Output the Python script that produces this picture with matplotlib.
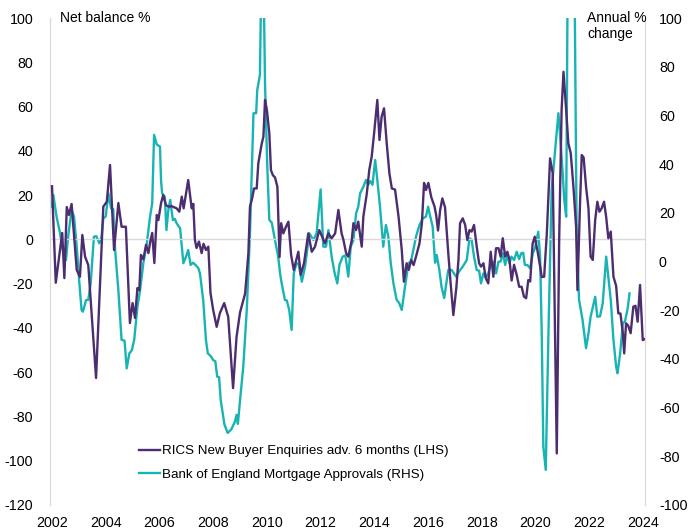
import matplotlib
matplotlib.use("Agg")
import matplotlib.pyplot as plt
from matplotlib import font_manager
import numpy as np

names = {f.name for f in font_manager.fontManager.ttflist}
FONT = "Liberation Sans Narrow" if "Liberation Sans Narrow" in names else "Liberation Sans"
plt.rcParams['font.family'] = [FONT, 'DejaVu Sans']

# RICS New Buyer Enquiries adv. 6 months (LHS), net balance %
rics_t = [2002.00, 2002.14, 2002.38, 2002.46, 2002.55, 2002.63, 2002.73, 2002.92, 2003.04, 2003.13,
          2003.23, 2003.35, 2003.64, 2003.85, 2003.91, 2004.04, 2004.16, 2004.31, 2004.47, 2004.59,
          2004.75, 2004.90, 2005.00, 2005.09, 2005.18, 2005.25, 2005.31, 2005.40, 2005.50, 2005.59,
          2005.65, 2005.73, 2005.81, 2005.90, 2005.96, 2006.06, 2006.14, 2006.24, 2006.33, 2006.45,
          2006.64, 2006.74, 2006.83, 2006.90, 2007.07, 2007.20, 2007.26, 2007.32, 2007.38, 2007.47,
          2007.57, 2007.64, 2007.73, 2007.82, 2007.90, 2008.00, 2008.13, 2008.25, 2008.41, 2008.56,
          2008.74, 2008.87, 2009.00, 2009.19, 2009.31, 2009.37, 2009.45, 2009.52, 2009.62, 2009.68,
          2009.81, 2009.87, 2009.93, 2010.00, 2010.09, 2010.15, 2010.22, 2010.30, 2010.39, 2010.47,
          2010.53, 2010.61, 2010.71, 2010.80, 2010.90, 2011.00, 2011.17, 2011.26, 2011.38, 2011.54,
          2011.67, 2011.79, 2011.95, 2012.08, 2012.16, 2012.29, 2012.41, 2012.54, 2012.66, 2012.78,
          2012.85, 2012.95, 2013.03, 2013.16, 2013.22, 2013.32, 2013.40, 2013.53, 2013.59, 2013.72,
          2013.81, 2013.90, 2013.99, 2014.11, 2014.19, 2014.27, 2014.36, 2014.46, 2014.56, 2014.65,
          2014.77, 2014.90, 2015.02, 2015.10, 2015.20, 2015.28, 2015.37, 2015.46, 2015.55, 2015.68,
          2015.77, 2015.85, 2015.92, 2016.01, 2016.12, 2016.24, 2016.30, 2016.37, 2016.45, 2016.53,
          2016.63, 2016.75, 2016.84, 2016.94, 2017.05, 2017.13, 2017.19, 2017.29, 2017.38, 2017.46,
          2017.54, 2017.62, 2017.71, 2017.81, 2017.90, 2017.97, 2018.06, 2018.15, 2018.24, 2018.33,
          2018.43, 2018.53, 2018.62, 2018.70, 2018.78, 2018.87, 2018.95, 2019.03, 2019.11, 2019.20,
          2019.30, 2019.39, 2019.48, 2019.57, 2019.65, 2019.73, 2019.80, 2019.89, 2019.97, 2020.07,
          2020.18, 2020.23, 2020.32, 2020.42, 2020.54, 2020.64, 2020.79, 2020.88, 2020.97, 2021.04,
          2021.14, 2021.22, 2021.31, 2021.41, 2021.51, 2021.56, 2021.66, 2021.72, 2021.79, 2021.88,
          2021.97, 2022.05, 2022.13, 2022.22, 2022.30, 2022.38, 2022.46, 2022.55, 2022.63, 2022.71,
          2022.80, 2022.90, 2023.00, 2023.08, 2023.16, 2023.25, 2023.30, 2023.37, 2023.45, 2023.54,
          2023.64, 2023.72, 2023.80, 2023.89, 2023.99, 2024.07]
rics_v = [24, -19.6, 2.9, -17.5, 14.6, 11, 16, -13.8, -16.9, 2,
          -7.8, -11.6, -62.6, -1.6, 14.8, 17, 33.6, -4.8, 16.4, 5.7,
          5.7, -37.8, -28.8, -35.5, -22, -23, -7, -9, -2.5, -6.2,
          -1.5, 2.9, -10.7, 11, 8.7, 16.4, 20, 15.5, 14.8, 15,
          14, 12.5, 19.3, 14, 26.8, 14, 16, -0.3, -3.9, -1,
          -6.2, -2, -4.8, -3.3, -24.2, -31.9, -39.5, -33.3, -28.8, -35,
          -67.2, -44, -33, -24.4, -6.3, 14.8, 18.5, 23, 23, 34.4,
          43.4, 46.4, 63, 58.4, 47.9, 31.3, 29, 28, 23.8, -8,
          7.3, 2.7, 5.7, 8, -7, -13.8, -5.6, -16, -10.8, 2.7,
          -5.6, -3.3, 4.2, 0.5, -1.8, 2.7, 0.5, 2.7, 13.3, 2.7,
          -0.3, -6.3, -7.8, -0.3, 7.3, 4.2, 8, -3.3, 10.3, 20.8,
          31.3, 37.3, 47.9, 63, 44.9, 55.4, 59.2, 43.4, 29.8, 23,
          22.5, 10.3, -4.8, -19.1, -10.8, -13.8, -9.3, -11.6, -7.8, -1.8,
          7.3, 25.5, 22.3, 25.5, 19, 14.8, 11, 4, 13.3, 18.5,
          14.5, -6, -20, -34.2, -22, -9.3, 7.3, 9.5, 6.5, -0.3,
          4.2, 3.5, 6.5, -3.3, -10.8, -12.3, -10.8, -17.6, -19.9, -5.6,
          -16.9, -4, -4, -7.8, 0.5, -7.8, -5.6, -9.3, -18.6, -11.5,
          -16.1, -21.4, -21.4, -25.9, -26.6, -18.4, -19, -2, 1.2, -5,
          -13, -17, -16.9, 2.7, 36.6, 29.8, -96.7, 0, 58.4, 75.7,
          58.4, 43.4, 38.9, 23.8, 5.7, -22.9, 17.8, 38.1, 37, 23.8,
          14, -7.8, -9.3, 8.7, 17, 12.5, 14, 17, 10, 0.5,
          3.5, -16.9, -21, -33.4, -33.5, -42.4, -51.5, -37.9, -39, -42.4,
          -30.4, -30, -37.2, -20.6, -45.5, -45]

# Bank of England Mortgage Approvals (RHS), annual % change
boe_t = [2002.00, 2002.05, 2002.17, 2002.30, 2002.40, 2002.52, 2002.60, 2002.73, 2002.82, 2002.92,
         2003.02, 2003.10, 2003.15, 2003.27, 2003.35, 2003.44, 2003.56, 2003.65, 2003.76, 2003.84,
         2003.91, 2004.00, 2004.10, 2004.20, 2004.28, 2004.35, 2004.47, 2004.59, 2004.70, 2004.78,
         2004.88, 2004.97, 2005.06, 2005.18, 2005.28, 2005.40, 2005.53, 2005.65, 2005.73, 2005.80,
         2005.90, 2006.02, 2006.06, 2006.10, 2006.20, 2006.26, 2006.33, 2006.40, 2006.50, 2006.57,
         2006.64, 2006.77, 2006.89, 2006.99, 2007.07, 2007.16, 2007.25, 2007.35, 2007.45, 2007.51,
         2007.63, 2007.73, 2007.80, 2007.92, 2008.00, 2008.08, 2008.15, 2008.22, 2008.28, 2008.42,
         2008.54, 2008.67, 2008.80, 2008.87, 2008.92, 2009.00, 2009.12, 2009.25, 2009.37, 2009.50,
         2009.60, 2009.64, 2009.74, 2009.81, 2009.87, 2009.93, 2010.01, 2010.09, 2010.18, 2010.30,
         2010.42, 2010.49, 2010.55, 2010.67, 2010.74, 2010.83, 2010.92, 2011.00, 2011.10, 2011.18,
         2011.30, 2011.42, 2011.58, 2011.73, 2011.85, 2011.95, 2012.00, 2012.10, 2012.20, 2012.29,
         2012.41, 2012.51, 2012.62, 2012.70, 2012.82, 2012.92, 2013.03, 2013.12, 2013.22, 2013.32,
         2013.40, 2013.47, 2013.59, 2013.69, 2013.77, 2013.85, 2013.93, 2014.03, 2014.11, 2014.21,
         2014.33, 2014.43, 2014.52, 2014.61, 2014.71, 2014.83, 2014.92, 2015.02, 2015.14, 2015.27,
         2015.36, 2015.45, 2015.55, 2015.68, 2015.80, 2015.92, 2016.00, 2016.07, 2016.17, 2016.26,
         2016.32, 2016.42, 2016.50, 2016.60, 2016.75, 2016.88, 2017.04, 2017.16, 2017.29, 2017.44,
         2017.54, 2017.62, 2017.71, 2017.81, 2017.90, 2017.97, 2018.06, 2018.15, 2018.24, 2018.33,
         2018.43, 2018.53, 2018.62, 2018.70, 2018.78, 2018.87, 2018.95, 2019.03, 2019.10, 2019.20,
         2019.30, 2019.39, 2019.47, 2019.54, 2019.60, 2019.70, 2019.80, 2019.90, 2019.98, 2020.10,
         2020.17, 2020.23, 2020.29, 2020.38, 2020.48, 2020.60, 2020.73, 2020.85, 2020.91, 2021.01,
         2021.07, 2021.14, 2021.22, 2021.30, 2021.38, 2021.46, 2021.53, 2021.62, 2021.75, 2021.88,
         2021.97, 2022.05, 2022.22, 2022.30, 2022.40, 2022.50, 2022.63, 2022.71, 2022.80, 2022.90,
         2023.00, 2023.05, 2023.15, 2023.25, 2023.33, 2023.42, 2023.50]
boe_v = [22.5, 27.3, 18.4, 11.6, 4.7, 0.6, 10.2, 21.1, 18.4, 6.1,
         -9, -19.9, -20.6, -15.8, -15.8, -9, 10.2, 10.4, 7.5, 10,
         17.7, 18.5, 28, 21.8, 21.5, 4.7, -11.7, -32.2, -32.5, -43.9,
         -37.7, -36.5, -32.2, -18.6, -11.7, -0.7, 7.5, 18.4, 23.9, 52,
         48, 47.2, 33, 28, 26.6, 12.9, 21.1, 25.3, 17, 17.5,
         15.7, 13.6, -0.7, 2, 4.7, -1.4, -0.5, -1.5, -2.8, -5,
         -16, -32.2, -37.7, -39, -40.5, -41, -47.3, -47.5, -56.9, -67,
         -70.4, -69, -66, -63, -66.7, -56.9, -43.2, -19.9, 11.6, 60.9,
         60.9, 70.4, 76.6, 130, 120, 73.2, 40.3, 17, 16, 8.8,
         2, -4.9, -9, -15.8, -16, -19.9, -28.1, -4.9, -0.7, -1,
         -8.3, -2.1, 11.6, 8.8, 11.6, 23.9, 29.6, 6.1, 6.1, 12.9,
         2, -4.2, -9, -1.4, 2, 2.5, -6.2, 6.1, 8.8, 19.8,
         22.5, 28, 30.7, 33.5, 31.5, 33, 31.5, 41.7, 33.5, 22.5,
         6.1, 15, 10.2, -0.7, -9, -15.8, -17, -19.9, -10.4, -0.7,
         0, 4.7, 10.2, 15, 17.7, 18.4, 22.5, 19, 14.3, -0.5,
         2.7, -3.5, -10.4, -15, -3.5, -3.5, -6.2, -4, -2.1, 0.6,
         9.5, 9, 2, -3.5, -3.8, -9, -4.9, -6.5, -4.9, -1.5,
         -0.1, -4.9, -0.1, 0, 3.4, -1.4, 2.7, -0.7, 2, 0.6,
         4, 1, 3.4, 3.6, -1.4, -1.5, -2.8, 3.4, 5.5, 12.2,
         2, -29.5, -76, -85.6, -29.5, 29.4, 45.8, 60.9, 52.6, 36.2,
         25.3, 18.4, 160, 330, 200, 105, 11.6, -15.8, -24, -35.6,
         -29.5, -22.7, -14.5, -22.7, -22.5, -17.2, 2, -6.2, -15.8, -32.2,
         -43.2, -45.9, -37.7, -25.4, -24.5, -19.9, -13.1]

x_ticks = list(range(2002, 2025, 2))
left_ticks = list(range(-120, 101, 20))
right_ticks = list(range(-100, 101, 20))

PURPLE = '#4b2d70'
TEAL = '#18b4b4'
GRID = '#d9d9d9'

W, H = 692, 531
fig = plt.figure(figsize=(W / 100, H / 100), dpi=100)
L, R, T, B = 50, 645, 18, 505
ax = fig.add_axes([L / W, 1 - B / H, (R - L) / W, (B - T) / H])
ax2 = ax.twinx()

ppy = (643 - 52) / 22.0
ax.set_xlim(2002 - 2 / ppy, 2024 + 2 / ppy)
ax.set_ylim(-120, 100)
ax2.set_ylim(-100, 100)

ax.axhline(0, color=GRID, lw=1.0, zorder=0)

l2, = ax2.plot(boe_t, boe_v, color=TEAL, lw=1.7,
               label='Bank of England Mortgage Approvals (RHS)', zorder=2)
l1, = ax.plot(rics_t, rics_v, color=PURPLE, lw=1.7,
              label='RICS New Buyer Enquiries adv. 6 months (LHS)', zorder=3)
ax.set_zorder(ax2.get_zorder() + 1)
ax.patch.set_visible(False)

for a in (ax, ax2):
    for s in ('top', 'bottom'):
        a.spines[s].set_visible(False)
    a.spines['left'].set_color(GRID)
    a.spines['right'].set_color(GRID)
    a.tick_params(length=0, labelsize=10.3, colors='#000000')

ax.set_xticks(x_ticks)
ax.set_xticklabels([str(t) for t in x_ticks])
ax.set_yticks(left_ticks)
ax.set_yticklabels([str(t) for t in left_ticks])
ax2.set_yticks(right_ticks)
ax2.set_yticklabels([str(t) for t in right_ticks])
ax.tick_params(axis='y', pad=12)
ax.tick_params(axis='x', pad=8)
ax2.tick_params(axis='y', pad=10)

fig.text(60 / W, 1 - 18 / H, 'Net balance %', fontsize=10, va='center', ha='left')
fig.text(587 / W, 1 - 11 / H, 'Annual %\nchange', fontsize=10, va='top', ha='left',
         linespacing=1.15)

leg = fig.legend(handles=[l1, l2], loc='upper left',
                 bbox_to_anchor=(139 / W, 1 - 445 / H), frameon=False,
                 fontsize=9.6, handlelength=1.6, handletextpad=0.15,
                 labelspacing=0.85, borderaxespad=0, borderpad=0)

fig.savefig('out.png', dpi=100)
